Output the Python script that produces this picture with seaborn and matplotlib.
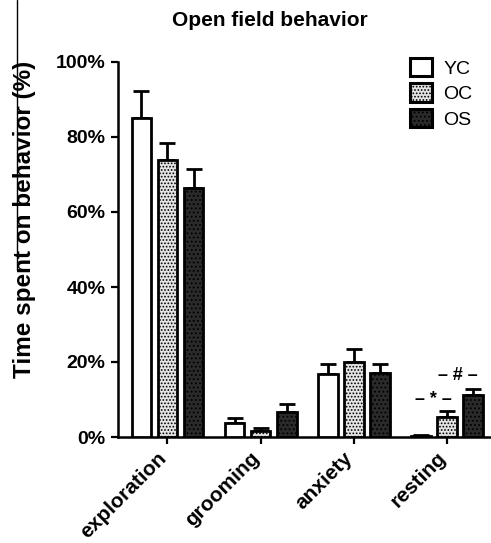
# Open field behavior - grouped bar chart with SEM error bars
import pandas as pd
import matplotlib.pyplot as plt
import matplotlib.transforms as mtrans
import seaborn as sns
from matplotlib.lines import Line2D

# data (% of time)
categories = ['exploration', 'grooming', 'anxiety', 'resting']
groups = ['YC', 'OC', 'OS']
yc_mean = [85.0, 3.8, 16.8, 0.4]
yc_sem = [7.3, 1.2, 2.7, 0.2]
oc_mean = [73.8, 1.5, 20.0, 5.4]
oc_sem = [4.5, 1.0, 3.5, 1.6]
os_mean = [66.5, 6.8, 17.0, 11.1]
os_sem = [5.0, 2.1, 2.5, 1.8]

means = {'YC': yc_mean, 'OC': oc_mean, 'OS': os_mean}
sems = {'YC': yc_sem, 'OC': oc_sem, 'OS': os_sem}

rows = []
for g in groups:
    for c, m in zip(categories, means[g]):
        rows.append({'behavior': c, 'group': g, 'pct': m})
df = pd.DataFrame(rows)

sns.set_style('ticks')
plt.rcParams['font.family'] = ['Liberation Sans', 'DejaVu Sans']
for k in ['text.color', 'axes.labelcolor', 'xtick.color', 'ytick.color', 'axes.edgecolor']:
    plt.rcParams[k] = 'black'
plt.rcParams['hatch.linewidth'] = 0.8

fig = plt.figure(figsize=(4.91, 5.43), dpi=100)
ax = fig.add_axes([118 / 491, 106 / 543, 373 / 491, 375 / 543])

palette = {'YC': '#ffffff', 'OC': '#e4e4e4', 'OS': '#2a2a2a'}
hatches = {'YC': '', 'OC': '.....', 'OS': '....'}
sns.barplot(data=df, x='behavior', y='pct', hue='group', order=categories,
            hue_order=groups, palette=palette, width=0.84, gap=0.25,
            edgecolor='black', linewidth=2.0, errorbar=None, ax=ax, zorder=3)

# upper-only error bars
for cont, g in zip(ax.containers, groups):
    for b in cont:
        b.set_hatch(hatches[g])
    xs = [b.get_x() + b.get_width() / 2 for b in cont]
    ys = [b.get_height() for b in cont]
    ax.errorbar(xs, ys, yerr=[[0] * len(ys), sems[g]], fmt='none',
                ecolor='black', elinewidth=2.0, capsize=5.5, capthick=2.0, zorder=2)

ax.set_xlim(-0.53, 3.47)
ax.set_ylim(0, 100)
ax.set_yticks([0, 20, 40, 60, 80, 100])
ax.set_yticklabels(['0%', '20%', '40%', '60%', '80%', '100%'],
                   fontsize=14, fontweight='bold')
ax.set_xticks(range(len(categories)))
ax.set_xticklabels([])
# rotated category labels, sitting a little left of their ticks as in the original
lab_tr = ax.get_xaxis_transform() + mtrans.ScaledTranslation(-4 / 100, -18 / 100, fig.dpi_scale_trans)
for i, c in enumerate(categories):
    ax.text(i, 0, c, transform=lab_tr, rotation=45, ha='right', va='center',
            rotation_mode='anchor', fontsize=15, fontweight='bold', clip_on=False)
ax.set_xlabel('')
ax.set_ylabel('')
ax.tick_params(axis='both', length=5, width=1.6, pad=4)
sns.despine(ax=ax)
ax.spines['left'].set_linewidth(1.8)
ax.spines['bottom'].set_linewidth(1.8)

# significance marks over resting
ax.text(2.85, 10.1, '– * –', ha='center', va='center', fontsize=13, fontweight='bold')
ax.text(3.11, 16.5, '– # –', ha='center', va='center', fontsize=13, fontweight='bold')

handles, labels = ax.get_legend_handles_labels()
for h, g in zip(handles, labels):
    h.set_hatch(hatches[g])
    h.set_linewidth(2.2)
leg = ax.legend(handles, labels, frameon=False, loc='upper left',
                bbox_to_anchor=(410 / 491, 1 - 58 / 543), bbox_transform=fig.transFigure,
                borderpad=0, borderaxespad=0, handlelength=1.15, handleheight=1.05,
                labelspacing=0.3, handletextpad=0.55, fontsize=14)

fig.text(270 / 491, 1 - 21 / 543, 'Open field behavior', ha='center', va='center',
         fontsize=15, fontweight='bold')
fig.text(25 / 491, 1 - 219 / 543, 'Time spent on behavior (%)', ha='center',
         va='center', rotation=90, fontsize=17.5, fontweight='bold')

# stray line at the left edge of the original figure
fig.add_artist(Line2D([17 / 491, 17 / 491], [1, 1 - 270 / 543], color='black', lw=1))

fig.savefig('out.png', dpi=100)
